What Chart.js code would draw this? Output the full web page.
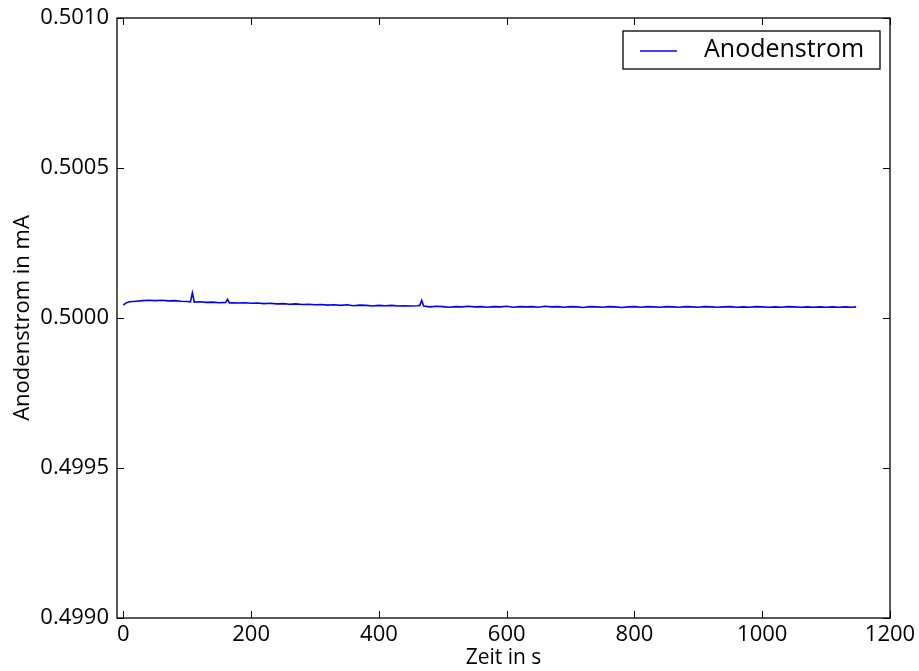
<!DOCTYPE html>
<html>
<head>
<meta charset="utf-8">
<script src="https://cdn.jsdelivr.net/npm/chart.js@4"></script>
<style>
  html, body { margin: 0; padding: 0; background: #fff; }
  canvas { display: block; }
</style>
</head>
<body>
<canvas id="chart" width="919" height="671"></canvas>
<script>
// time in s
const zeit = [
  0, 3, 6, 10, 20, 30, 40, 50, 60, 70, 80, 90, 100, 105, 108, 111, 120, 130, 140, 150,
  160, 163, 166, 170, 180, 190, 200, 210, 220, 230, 240, 250, 260, 270, 280, 290,
  300, 310, 320, 330, 340, 350, 360, 370, 380, 390, 400, 410, 420, 430, 440, 450,
  460, 464, 467, 470, 480, 490, 500, 510, 520, 530, 540, 550, 560, 570, 580, 590,
  600, 610, 620, 630, 640, 650, 660, 670, 680, 690, 700, 710, 720, 730, 740, 750,
  760, 770, 780, 790, 800, 810, 820, 830, 840, 850, 860, 870, 880, 890, 900, 910,
  920, 930, 940, 950, 960, 970, 980, 990, 1000, 1010, 1020, 1030, 1040, 1050, 1060,
  1070, 1080, 1090, 1100, 1110, 1120, 1130, 1140, 1147
];

// anode current in mA
const anodenstrom = [
  0.500043, 0.500049, 0.500052, 0.500054, 0.500056, 0.500058, 0.500059, 0.500058, 0.500059, 0.500057,
  0.500058, 0.500056, 0.500055, 0.500054, 0.500084, 0.500053, 0.500054, 0.500052, 0.500053, 0.500051,
  0.500052, 0.500062, 0.500050, 0.500051, 0.500050, 0.500051, 0.500049, 0.500050, 0.500048, 0.500049,
  0.500047, 0.500048, 0.500046, 0.500047, 0.500045, 0.500046,
  0.500044, 0.500045, 0.500043, 0.500044, 0.500042, 0.500044, 0.500041, 0.500043, 0.500042, 0.500040,
  0.500042, 0.500041, 0.500042, 0.500040, 0.500041, 0.500040,
  0.500041, 0.500042, 0.500059, 0.500040, 0.500037, 0.500039, 0.500038, 0.500036, 0.500038, 0.500037,
  0.500039, 0.500037, 0.500038, 0.500036, 0.500038, 0.500037,
  0.500039, 0.500036, 0.500038, 0.500037, 0.500038, 0.500036, 0.500039, 0.500037, 0.500038, 0.500036,
  0.500038, 0.500037, 0.500035, 0.500038, 0.500037, 0.500036,
  0.500038, 0.500037, 0.500035, 0.500037, 0.500038, 0.500036, 0.500038, 0.500037, 0.500036, 0.500038,
  0.500037, 0.500036, 0.500038, 0.500037, 0.500036, 0.500038,
  0.500037, 0.500036, 0.500037, 0.500038, 0.500036, 0.500037, 0.500036, 0.500038, 0.500037, 0.500036,
  0.500037, 0.500036, 0.500038, 0.500037, 0.500036,
  0.500037, 0.500036, 0.500037, 0.500036, 0.500037, 0.500036, 0.500037, 0.500036, 0.500037
];

const xTicks = [0, 200, 400, 600, 800, 1000, 1200];
const yTicks = [0.4990, 0.4995, 0.5000, 0.5005, 0.5010];

const FONT = "'Open Sans', 'DejaVu Sans', sans-serif";

// matplotlib-style frame, inward ticks on all sides and boxed legend
const mplFrame = {
  id: "mplFrame",
  afterDraw(chart) {
    const { ctx, chartArea: a, scales } = chart;
    ctx.save();
    ctx.strokeStyle = "#000";
    ctx.lineWidth = 1.3;
    ctx.strokeRect(a.left, a.top, a.right - a.left, a.bottom - a.top);

    const len = 7;
    ctx.lineWidth = 1;
    ctx.beginPath();
    scales.x.ticks.forEach((t) => {
      const px = Math.round(scales.x.getPixelForValue(t.value)) + 0.5;
      ctx.moveTo(px, a.bottom); ctx.lineTo(px, a.bottom - len);
      ctx.moveTo(px, a.top); ctx.lineTo(px, a.top + len);
    });
    scales.y.ticks.forEach((t) => {
      const py = Math.round(scales.y.getPixelForValue(t.value)) + 0.5;
      ctx.moveTo(a.left, py); ctx.lineTo(a.left + len, py);
      ctx.moveTo(a.right, py); ctx.lineTo(a.right - len, py);
    });
    ctx.stroke();

    // legend
    const ds = chart.data.datasets[0];
    const bx = a.right - 267, by = a.top + 13, bw = 257, bh = 38;
    ctx.fillStyle = "#fff";
    ctx.fillRect(bx, by, bw, bh);
    ctx.strokeStyle = "#000";
    ctx.lineWidth = 1.3;
    ctx.strokeRect(bx, by, bw, bh);
    ctx.strokeStyle = ds.borderColor;
    ctx.lineWidth = 1.5;
    ctx.beginPath();
    ctx.moveTo(bx + 17, by + 20);
    ctx.lineTo(bx + 54, by + 20);
    ctx.stroke();
    ctx.fillStyle = "#000";
    ctx.font = "25px " + FONT;
    ctx.textBaseline = "middle";
    ctx.fillText(ds.label, bx + 81, by + 19);
    ctx.restore();
  }
};

new Chart(document.getElementById("chart"), {
  type: "line",
  data: {
    datasets: [{
      label: "Anodenstrom",
      data: zeit.map((t, i) => ({ x: t, y: anodenstrom[i] })),
      borderColor: "#0000ff",
      borderWidth: 1.6,
      pointRadius: 0,
      fill: false,
      tension: 0
    }]
  },
  options: {
    responsive: false,
    animation: false,
    devicePixelRatio: 1,
    layout: { padding: { top: 18, right: 29, left: 0, bottom: 0 } },
    plugins: { legend: { display: false }, tooltip: { enabled: false } },
    scales: {
      x: {
        type: "linear",
        min: -10,
        max: 1200,
        afterBuildTicks: (s) => { s.ticks = xTicks.map((v) => ({ value: v })); },
        afterFit: (s) => { s.height = 53; s.paddingLeft = 0; s.paddingRight = 0; },
        grid: { display: false, drawTicks: false },
        border: { display: false },
        ticks: { color: "#000", padding: 4, maxRotation: 0, callback: (v) => String(v), font: { family: FONT, size: 22 } },
        title: { display: true, text: "Zeit in s", color: "#000", padding: { top: 0, bottom: 0 }, font: { family: FONT, size: 21 } }
      },
      y: {
        type: "linear",
        min: 0.499,
        max: 0.501,
        afterBuildTicks: (s) => { s.ticks = yTicks.map((v) => ({ value: v })); },
        afterFit: (s) => { s.width = 117; s.paddingTop = 0; s.paddingBottom = 0; },
        grid: { display: false, drawTicks: false },
        border: { display: false },
        ticks: { color: "#000", padding: 8, callback: (v) => Number(v).toFixed(4), font: { family: FONT, size: 22 } },
        title: { display: true, text: "Anodenstrom in mA", color: "#000", padding: { top: 10, bottom: 0 }, font: { family: FONT, size: 22 } }
      }
    }
  },
  plugins: [mplFrame]
});
</script>
</body>
</html>
